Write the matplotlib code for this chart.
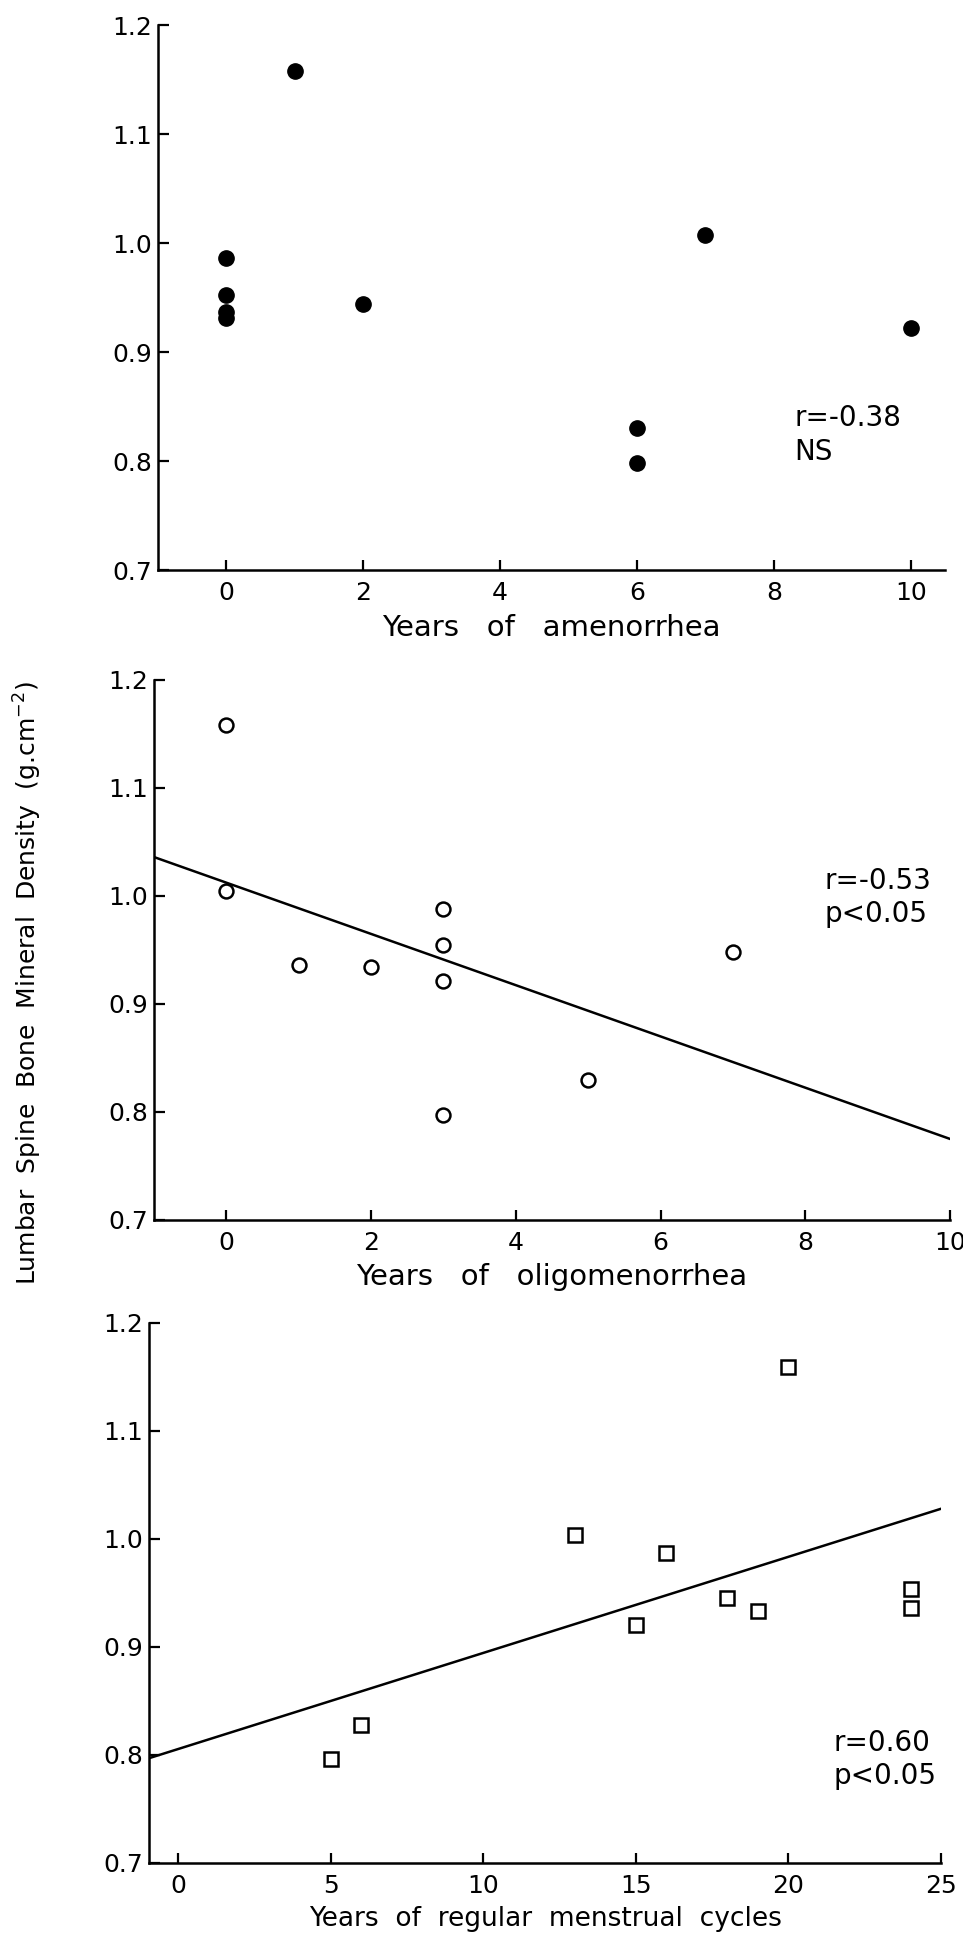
import matplotlib
matplotlib.use("Agg")
import matplotlib.pyplot as plt

plt.rcParams['font.family'] = ['DejaVu Sans']

# panel 1: years of amenorrhea (filled circles)
amen_x = [0, 0, 0, 0, 1, 2, 6, 6, 7, 10]
amen_y = [0.986, 0.952, 0.937, 0.931, 1.158, 0.944, 0.830, 0.798, 1.007, 0.922]

# panel 2: years of oligomenorrhea (open circles)
oligo_x = [0, 0, 1, 2, 3, 3, 3, 3, 5, 7]
oligo_y = [1.158, 1.005, 0.936, 0.934, 0.988, 0.955, 0.921, 0.797, 0.830, 0.948]
oligo_fit_x = [-1, 10]
oligo_fit_y = [1.036, 0.775]

# panel 3: years of regular cycles (open squares)
reg_x = [5, 6, 13, 15, 16, 18, 19, 20, 24, 24]
reg_y = [0.796, 0.828, 1.004, 0.920, 0.987, 0.945, 0.933, 1.159, 0.954, 0.936]
reg_fit_x = [-0.95, 25]
reg_fit_y = [0.797, 1.028]

yticks = [0.7, 0.8, 0.9, 1.0, 1.1, 1.2]
ytick_labels = ["0.7", "0.8", "0.9", "1.0", "1.1", "1.2"]

fig = plt.figure(figsize=(9.63, 19.41), dpi=100)


def setup(ax, xlim, xticks, xlabel, xlabel_size):
    ax.set_xlim(xlim)
    ax.set_ylim(0.7, 1.2)
    ax.set_xticks(xticks)
    ax.set_xticklabels([str(t) for t in xticks])
    ax.set_yticks(yticks)
    ax.set_yticklabels(ytick_labels)
    for s in ["top", "right"]:
        ax.spines[s].set_visible(False)
    for s in ["left", "bottom"]:
        ax.spines[s].set_linewidth(1.8)
    ax.tick_params(axis="both", direction="in", width=1.6, labelsize=18)
    ax.tick_params(axis="x", length=7, pad=8)
    ax.tick_params(axis="y", length=8, pad=4)
    ax.set_xlabel(xlabel, fontsize=xlabel_size, labelpad=6)


ax1 = fig.add_axes([0.1641, 0.7063, 0.8172, 0.2808])
ax1.plot(amen_x, amen_y, 'o', color='black', markersize=11, clip_on=False)
setup(ax1, (-1, 10.5), [0, 2, 4, 6, 8, 10], "Years   of   amenorrhea", 21)
ax1.text(8.3, 0.8238, "r=-0.38\nNS", fontsize=20, ha="left", va="center", linespacing=1.25)

ax2 = fig.add_axes([0.1599, 0.3715, 0.8266, 0.2782])
ax2.plot(oligo_x, oligo_y, 'o', markerfacecolor='none', markeredgecolor='black',
         markersize=10, markeredgewidth=1.8, clip_on=False)
ax2.plot(oligo_fit_x, oligo_fit_y, color='black', linewidth=1.8)
setup(ax2, (-1, 10), [0, 2, 4, 6, 8, 10], "Years   of   oligomenorrhea", 21)
ax2.text(8.26, 0.9985, "r=-0.53\np<0.05", fontsize=20, ha="left", va="center", linespacing=1.25)

ax3 = fig.add_axes([0.1547, 0.0402, 0.8225, 0.2782])
ax3.plot(reg_x, reg_y, 's', markerfacecolor='none', markeredgecolor='black',
         markersize=10, markeredgewidth=1.8, clip_on=False)
ax3.plot(reg_fit_x, reg_fit_y, color='black', linewidth=1.8)
setup(ax3, (-0.95, 25), [0, 5, 10, 15, 20, 25], "Years  of  regular  menstrual  cycles", 19)
ax3.text(21.48, 0.796, "r=0.60\np<0.05", fontsize=20, ha="left", va="center", linespacing=1.25)

fig.text(0.029, 0.4936, "Lumbar  Spine  Bone  Mineral  Density  (g.cm$^{-2}$)",
         rotation=90, fontsize=18, ha="center", va="center")

fig.savefig("out.png", dpi=100)
